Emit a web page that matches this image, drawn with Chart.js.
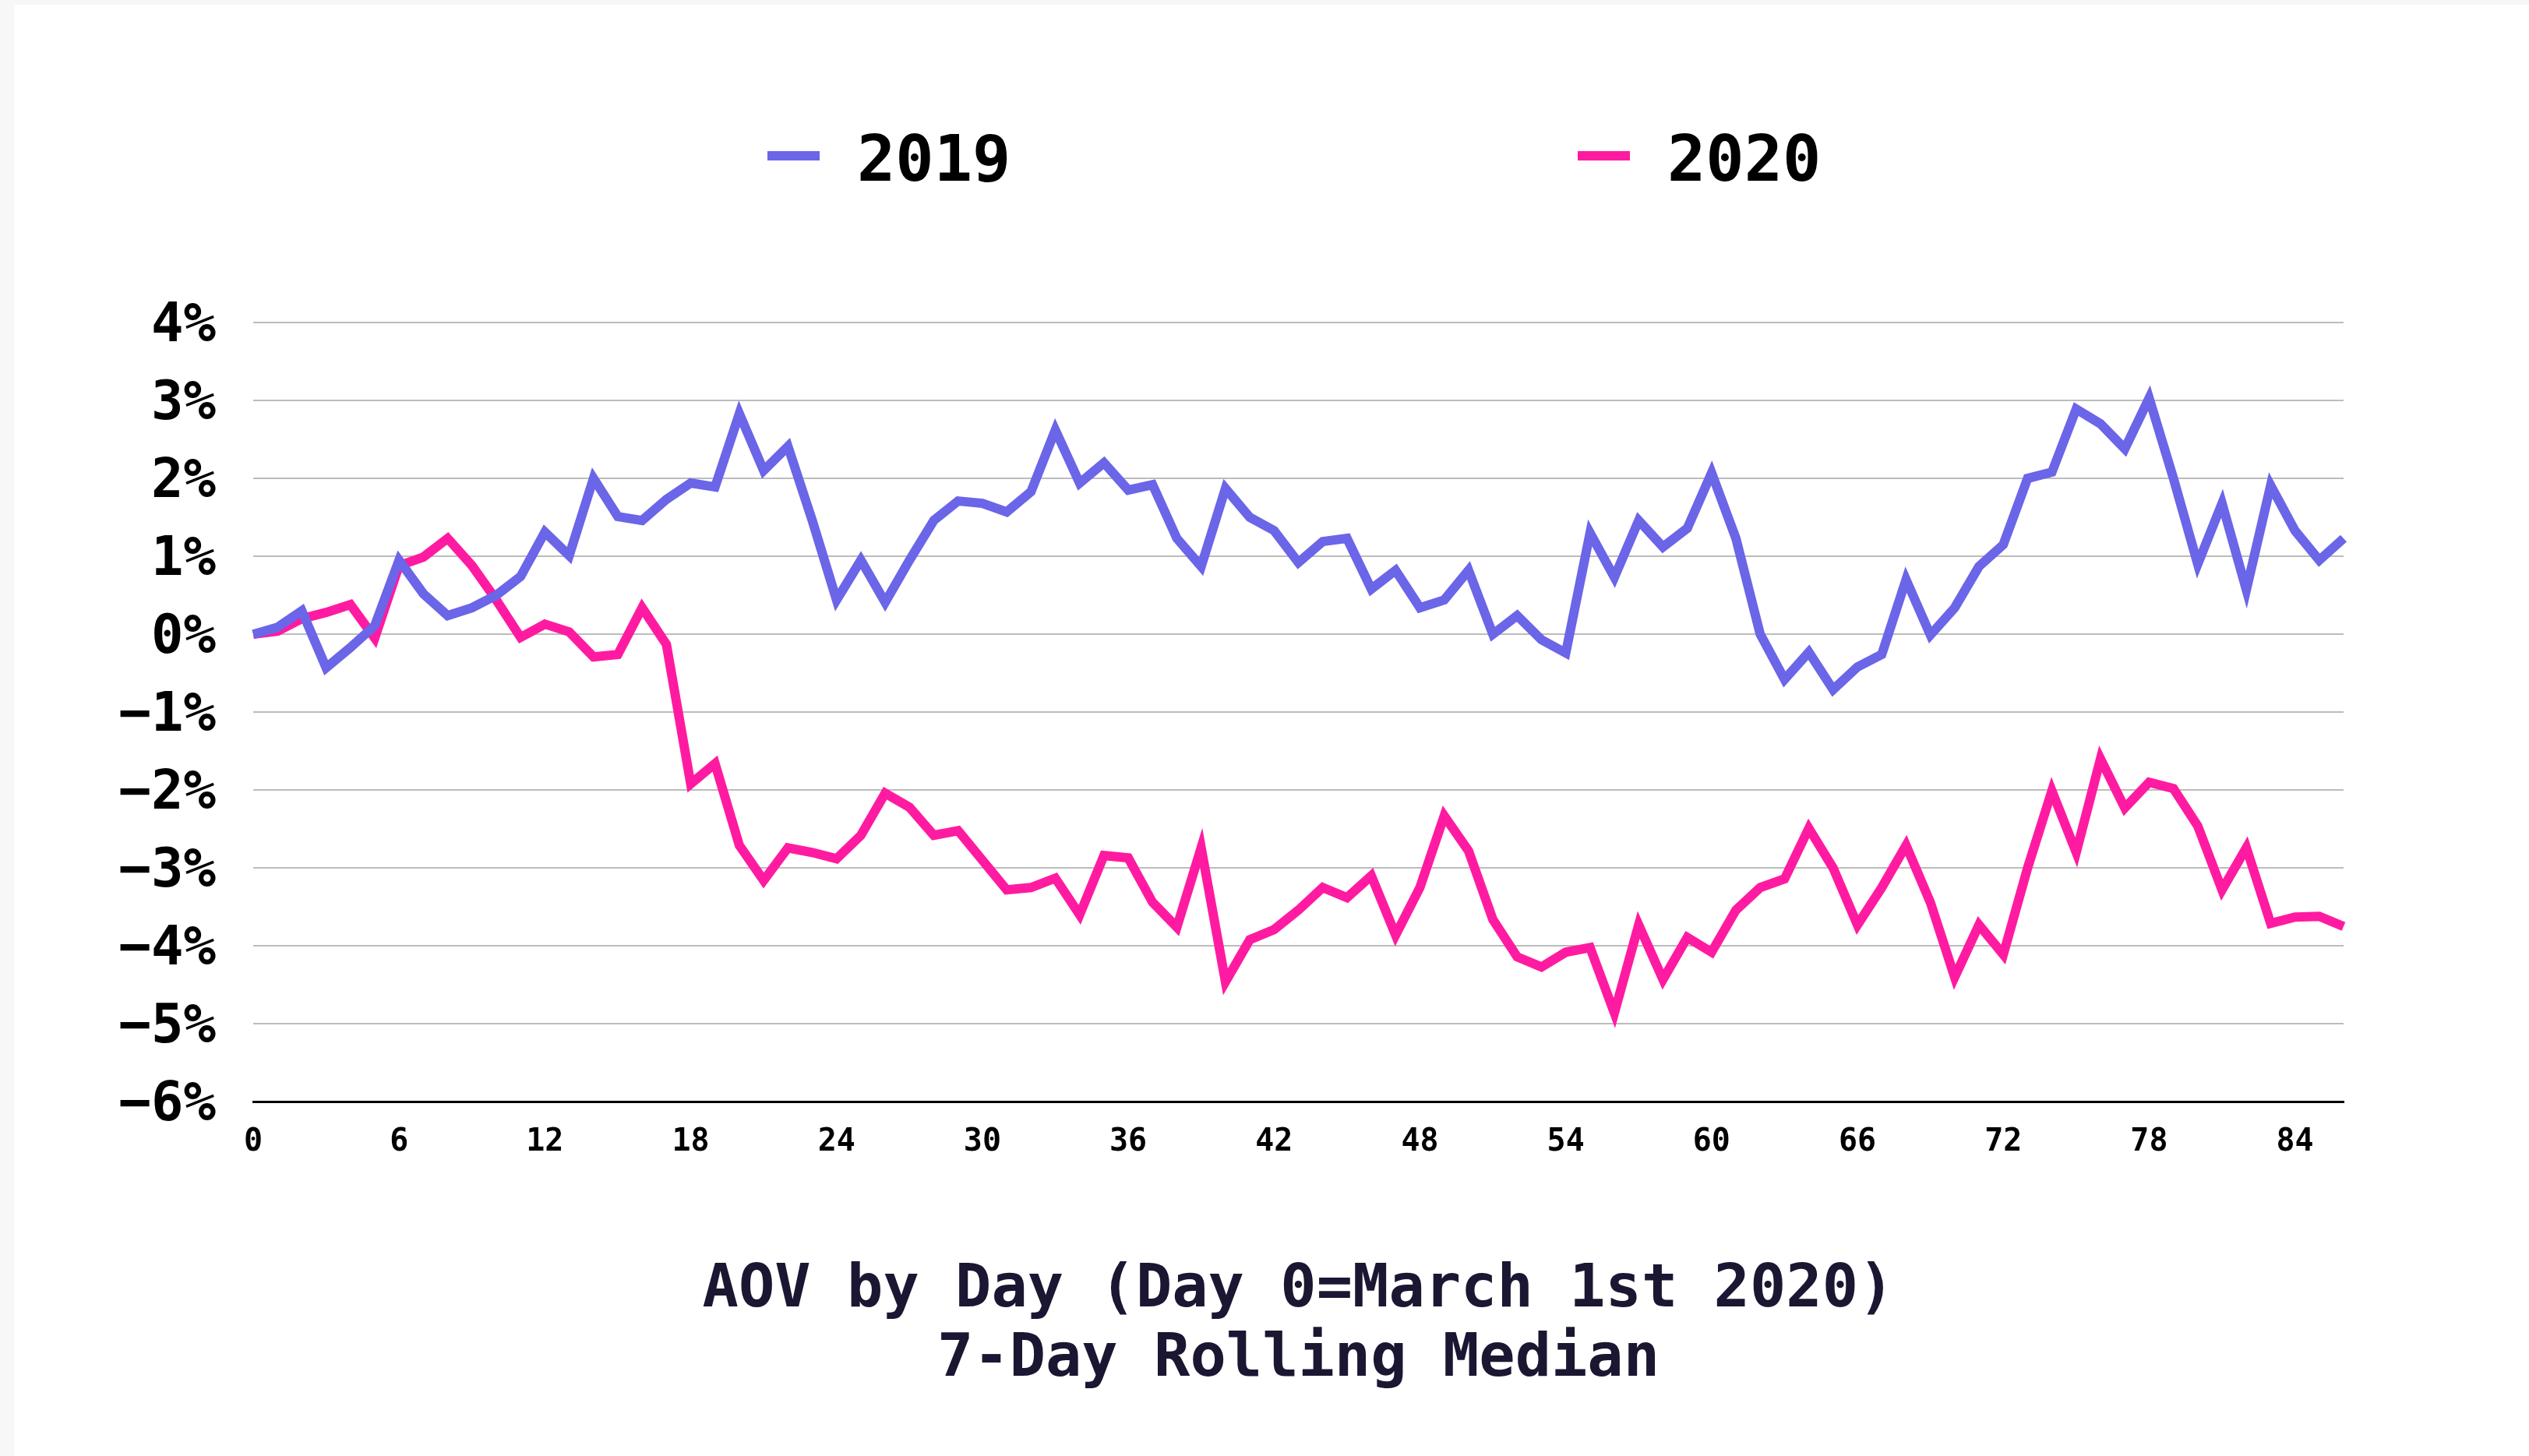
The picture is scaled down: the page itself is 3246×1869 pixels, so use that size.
<!DOCTYPE html>
<html>
<head>
<meta charset="utf-8">
<title>AOV by Day</title>
<script src="https://cdn.jsdelivr.net/npm/chart.js@4.4.1/dist/chart.umd.min.js"></script>
<style>
  html, body { margin: 0; padding: 0; }
  body { background: #f7f7f7; width: 3246px; height: 1869px; overflow: hidden; position: relative; }
  #hoja { position: absolute; left: 18px; top: 6px; width: 3228px; height: 1863px; background: #fff; }
  #grafico { position: absolute; left: 0; top: 0; }
  .item { position: absolute; top: 153px; height: 82px; display: flex; align-items: center;
          font-family: 'DejaVu Sans Mono', monospace; font-weight: bold; font-size: 82px; line-height: 82px; color: #000; }
  .item span.txt { position: relative; top: 4px; }
  .marca { width: 67px; height: 12px; margin-right: 48px; }
</style>
</head>
<body>
<div id="hoja">
  <div id="leyenda"></div>
  <canvas id="grafico" width="3228" height="1863"></canvas>
</div>
<script>
//DATOS
const dias = [0,1,2,3,4,5,6,7,8,9,10,11,12,13,14,15,16,17,18,19,20,21,22,23,24,25,26,27,28,29,
  30,31,32,33,34,35,36,37,38,39,40,41,42,43,44,45,46,47,48,49,50,51,52,53,54,55,56,57,58,59,
  60,61,62,63,64,65,66,67,68,69,70,71,72,73,74,75,76,77,78,79,80,81,82,83,84,85,86];
const aov2019 = [0.0,0.09,0.3,-0.43,-0.17,0.11,0.95,0.52,0.24,0.34,0.5,0.74,1.31,1.01,2.0,1.51,1.46,1.73,1.94,1.89,
  2.83,2.1,2.41,1.46,0.44,0.95,0.41,0.95,1.46,1.71,1.68,1.57,1.83,2.62,1.94,2.2,1.85,1.92,1.23,0.87,
  1.87,1.5,1.33,0.92,1.19,1.23,0.58,0.82,0.34,0.44,0.82,0.0,0.24,-0.07,-0.24,1.3,0.73,1.46,1.12,1.36,
  2.07,1.23,0.0,-0.58,-0.23,-0.71,-0.42,-0.26,0.7,-0.01,0.34,0.87,1.15,2.0,2.08,2.89,2.7,2.38,3.03,2.0,
  0.9,1.68,0.57,1.91,1.33,0.95,1.23];
const aov2020 = [0.0,0.04,0.2,0.28,0.38,-0.05,0.88,0.99,1.23,0.88,0.44,-0.04,0.13,0.03,-0.29,-0.26,0.34,-0.13,-1.92,-1.66,
  -2.71,-3.16,-2.74,-2.8,-2.88,-2.58,-2.04,-2.22,-2.58,-2.52,-2.9,-3.28,-3.25,-3.13,-3.6,-2.84,-2.87,-3.44,-3.76,-2.74,
  -4.46,-3.92,-3.79,-3.54,-3.25,-3.38,-3.1,-3.86,-3.25,-2.33,-2.78,-3.66,-4.14,-4.27,-4.08,-4.02,-4.86,-3.73,-4.43,-3.89,
  -4.08,-3.54,-3.25,-3.14,-2.49,-3.0,-3.73,-3.25,-2.71,-3.44,-4.4,-3.73,-4.11,-3.0,-2.01,-2.8,-1.6,-2.23,-1.9,-1.98,
  -2.46,-3.28,-2.74,-3.71,-3.63,-3.62,-3.75];
const etiquetasX = [0,6,12,18,24,30,36,42,48,54,60,66,72,78,84];
const etiquetasY = [4,3,2,1,0,-1,-2,-3,-4,-5,-6];
const titulo = ['AOV by Day (Day 0=March 1st 2020)', '7-Day Rolling Median'];
//DATOS

const fuente = 'DejaVu Sans Mono';

const config = {
  type: 'line',
  data: {
    labels: dias,
    datasets: [
      { label: '2019', data: aov2019, borderColor: '#6b65e8', backgroundColor: '#6b65e8', borderWidth: 12 },
      { label: '2020', data: aov2020, borderColor: '#ff1ba1', backgroundColor: '#ff1ba1', borderWidth: 12 }
    ]
  },
  options: {
    responsive: false,
    animation: false,
    layout: { padding: { top: 408, right: 238, bottom: 78, left: 0 } },
    elements: {
      line: { tension: 0, borderJoinStyle: 'miter', fill: false },
      point: { radius: 0 }
    },
    plugins: {
      legend: { display: false },
      tooltip: { enabled: false },
      title: {
        display: true,
        position: 'bottom',
        fullSize: false,
        text: titulo,
        color: '#1b1631',
        font: { family: fuente, size: 77, weight: 'bold', lineHeight: 1.16 },
        padding: { top: 98, bottom: 0 }
      }
    },
    scales: {
      x: {
        type: 'category',
        grid: { display: false },
        border: { display: true, color: '#000', width: 3 },
        ticks: {
          autoSkip: false,
          maxRotation: 0,
          padding: 20,
          color: '#000',
          font: { family: fuente, size: 40, weight: 'bold' },
          callback: function (val) {
            const d = this.getLabelForValue(val);
            return etiquetasX.includes(d) ? String(d) : '';
          }
        },
        afterFit: (s) => { s.height = 100; }
      },
      y: {
        min: -6,
        max: 4,
        afterBuildTicks: (s) => { s.ticks = etiquetasY.map(v => ({ value: v })); },
        grid: { color: '#bcbcbc', lineWidth: 2, drawTicks: false },
        border: { display: false },
        ticks: {
          padding: 48,
          labelOffset: 6,
          color: '#000',
          font: { family: fuente, size: 69, weight: 'bold' },
          callback: (v) => (v < 0 ? '\u2212' + Math.abs(v) : v) + '%'
        },
        afterFit: (s) => { s.width = 307; }
      }
    }
  }
};

const chart = new Chart(document.getElementById('grafico'), config);

//LEYENDA (html, las dos entradas muy separadas)
const posLeyenda = [967, 2007];
const leyenda = document.getElementById('leyenda');
chart.data.datasets.forEach((ds, i) => {
  const item = document.createElement('div');
  item.className = 'item';
  item.style.left = posLeyenda[i] + 'px';
  item.innerHTML = `<span class="marca" style="background:${ds.borderColor}"></span><span class="txt">${ds.label}</span>`;
  leyenda.appendChild(item);
});
</script>
</body>
</html>
